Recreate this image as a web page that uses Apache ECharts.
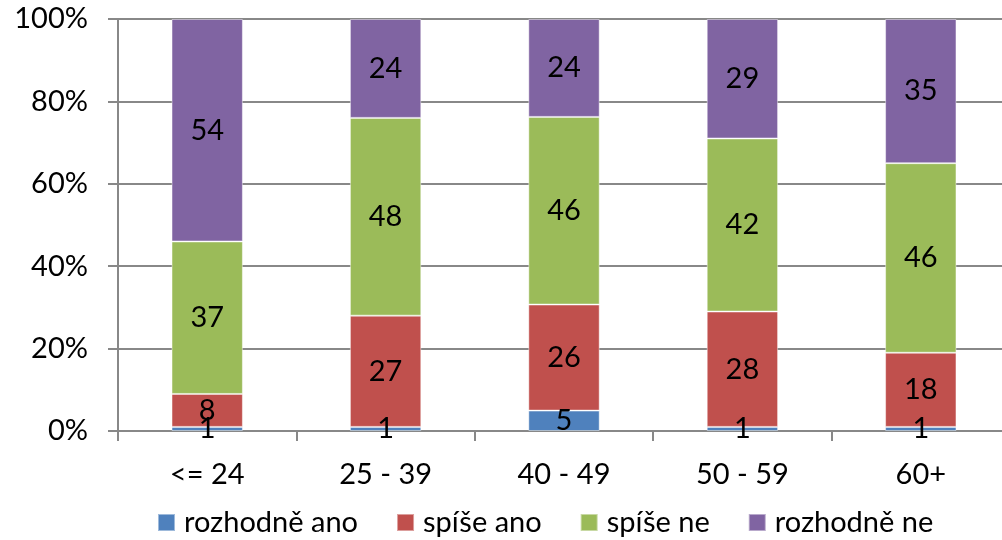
<!DOCTYPE html>
<html><head><meta charset="utf-8">
<script src="https://cdn.jsdelivr.net/npm/echarts@6/dist/echarts.min.js"></script>
<style>html,body{margin:0;padding:0;background:#fff}#c{width:1002px;height:540px}</style>
</head><body><div id="c"></div>
<script>
const categories = ['<= 24', '25 - 39', '40 - 49', '50 - 59', '60+'];
const seriesNames = ['rozhodně ano', 'spíše ano', 'spíše ne', 'rozhodně ne'];
const rozhodneAno = [1, 1, 5, 1, 1];
const spiseAno = [8, 27, 26, 28, 18];
const spiseNe = [37, 48, 46, 42, 46];
const rozhodneNe = [54, 24, 24, 29, 35];
const yTicks = ['0%', '20%', '40%', '60%', '80%', '100%'];
const colors = ['#4F81BD', '#C0504D', '#9BBB59', '#8064A2'];

const raw = [rozhodneAno, spiseAno, spiseNe, rozhodneNe];
const totals = categories.map((_, i) => raw.reduce((s, a) => s + a[i], 0));
const FONT = 'Lato';
const FS = 29;
const chart = echarts.init(document.getElementById('c'));
chart.setOption({
  animation: false,
  color: colors,
  grid: { left: 118, top: 19, width: 892, height: 412, containLabel: false, outerBoundsMode: 'none' },
  legend: {
    bottom: -2, left: 152, itemWidth: 17, itemHeight: 17, itemGap: 38,
    icon: 'rect',
    textStyle: { fontFamily: FONT, fontSize: FS, color: '#000', padding: [0, 0, 0, 4] },
    data: seriesNames
  },
  xAxis: {
    type: 'category', data: categories,
    axisLine: { lineStyle: { color: '#888', width: 2 } },
    axisTick: { show: true, length: 10, lineStyle: { color: '#888', width: 2 } },
    axisLabel: { fontFamily: FONT, fontSize: FS, color: '#000', margin: 29 }
  },
  yAxis: {
    type: 'value', min: 0, max: 100, interval: 20,
    axisLine: { show: true, lineStyle: { color: '#888', width: 2 } },
    axisTick: { show: true, length: 10, lineStyle: { color: '#888', width: 2 } },
    splitLine: { lineStyle: { color: '#888', width: 2 } },
    axisLabel: { fontFamily: FONT, fontSize: FS, color: '#000', margin: 30,
      formatter: v => yTicks[Math.round(v / 20)] }
  },
  series: raw.map((arr, si) => ({
    name: seriesNames[si], type: 'bar', stack: 'total', barWidth: '40%',
    data: arr.map((v, i) => v / totals[i] * 100),
    itemStyle: { borderColor: 'rgba(255,255,255,0.45)', borderWidth: 1 },
    label: { show: true, position: 'inside', fontFamily: FONT, fontSize: FS, color: '#000',
      formatter: p => String(arr[p.dataIndex]) }
  }))
});
</script></body></html>
